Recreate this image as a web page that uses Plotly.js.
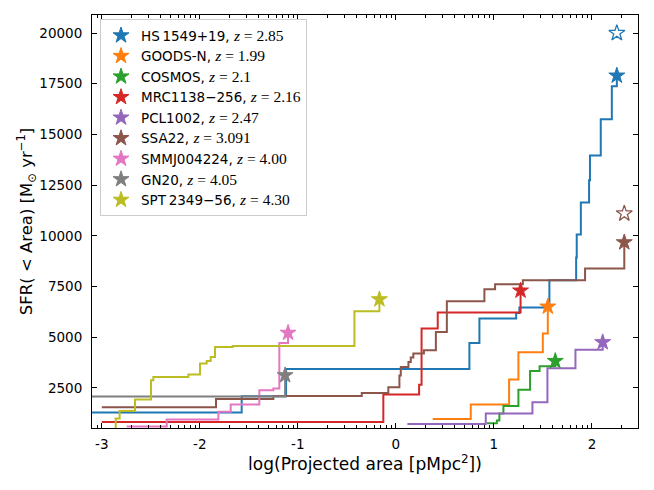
<!DOCTYPE html>
<html>
<head>
<meta charset="utf-8">
<script src="https://cdn.plot.ly/plotly-3.0.1.min.js"></script>
<style>body{margin:0;} #sfrChart{width:654px;height:490px;}</style>
</head>
<body>
<div id="sfrChart"></div>
<script>
// fields, redshifts and colours (legend order)
var names = ['HS\u20091549+19', 'GOODS-N', 'COSMOS', 'MRC1138\u2212256', 'PCL1002',
             'SSA22', 'SMMJ004224', 'GN20', 'SPT\u20092349\u221256'];
var redshifts = ['2.85', '1.99', '2.1', '2.16', '2.47', '3.091', '4.00', '4.05', '4.30'];
var colors = ['#1f77b4', '#ff7f0e', '#2ca02c', '#d62728', '#9467bd',
              '#8c564b', '#e377c2', '#7f7f7f', '#bcbd22'];

// cumulative SFR steps: x = log area where the step happens, y = new level
var hs1549_x = [-3.2, -1.573, -1.12, 0.75, 0.852, 1.227, 1.26, 1.566, 1.839, 1.845, 1.887, 1.971, 1.98, 2.09, 2.203, 2.254];
var hs1549_y = [1287, 2090, 3436, 4718, 5921, 6200, 6463, 7809, 8928, 10062, 11640, 12739, 13967, 15746, 17373, 17900];
var goodsn_x = [0.376, 0.764, 1.155, 1.25, 1.499, 1.55];
var goodsn_y = [965, 1681, 2914, 4260, 5181, 6510];
var cosmos_x = [0.928, 1.03, 1.056, 1.097, 1.25, 1.369, 1.466, 1.626];
var cosmos_y = [760, 900, 1237, 1612, 2410, 3340, 3569, 3830];
var mrc1138_x = [-3.0, -0.128, 0.237, 0.262, 0.427, 1.272];
var mrc1138_y = [823, 2180, 2660, 5430, 6217, 7300];
var pcl1002_x = [0.117, 0.917, 1.393, 1.546, 1.832, 2.11];
var pcl1002_y = [730, 1237, 1795, 3470, 4380, 4755];
var ssa22_x = [-3.0, -1.835, -1.25, -0.348, -0.077, 0.036, 0.05, 0.128, 0.152, 0.178, 0.286, 0.408, 0.52, 0.903, 1.012, 1.295, 1.93, 2.33];
var ssa22_y = [1548, 1958, 2105, 2253, 2534, 3111, 3535, 3781, 3998, 4195, 4358, 5260, 6780, 7365, 7612, 7809, 8386, 9680];
var smmj_x = [-2.746, -2.338, -1.811, -1.685, -1.393, -1.25, -1.189, -1.10];
var smmj_y = [596, 942, 1330, 1681, 2386, 2470, 4718, 5220];
var gn20_x = [-3.2, -1.13];
var gn20_y = [2075, 3126];
var spt2349_x = [-2.858, -2.858, -2.818, -2.661, -2.498, -2.474, -2.117, -1.998, -1.93, -1.889, -1.845, -1.665, -0.423, -0.168];
var spt2349_y = [400, 990, 1366, 1928, 2879, 3042, 3160, 3702, 3831, 4028, 4521, 4570, 6281, 6870];

var stepX = [hs1549_x, goodsn_x, cosmos_x, mrc1138_x, pcl1002_x, ssa22_x, smmj_x, gn20_x, spt2349_x];
var stepY = [hs1549_y, goodsn_y, cosmos_y, mrc1138_y, pcl1002_y, ssa22_y, smmj_y, gn20_y, spt2349_y];

// open stars (HS1549 and SSA22)
var open_x = [2.254, 2.33];
var open_y = [20000, 11100];
var open_colors = ['#1f77b4', '#8c564b'];

var xtick_vals = [-3, -2, -1, 0, 1, 2];
var xtick_text = ['-3', '-2', '-1', '0', '1', '2'];
var ytick_vals = [2500, 5000, 7500, 10000, 12500, 15000, 17500, 20000];

// minor ticks like a log axis inside each unit
var minorX = [];
for (var d = -4; d <= 2; d++) {
    for (var k = 2; k <= 9; k++) {
        var v = d + Math.log10(k);
        if (v > -3.1 && v < 2.47) minorX.push(v);
    }
}

var data = [];
for (var i = 0; i < names.length; i++) {
    data.push({
        type: 'scatter', mode: 'lines',
        x: stepX[i], y: stepY[i],
        line: {color: colors[i], width: 2, shape: 'hv'},
        showlegend: false, hoverinfo: 'none'
    });
}
for (var i = 0; i < names.length; i++) {
    var n = stepX[i].length;
    data.push({
        type: 'scatter', mode: 'markers',
        x: [stepX[i][n - 1]], y: [stepY[i][n - 1]],
        name: names[i] + ', <span style="font-family:\'Liberation Serif\';font-size:15.5px"><i>z</i> = ' + redshifts[i] + '</span>',
        legendgroup: 'g' + i,
        marker: {symbol: 'star', size: 12, color: colors[i], line: {color: colors[i], width: 1}},
        hoverinfo: 'none'
    });
}
for (var j = 0; j < open_x.length; j++) {
    data.push({
        type: 'scatter', mode: 'markers',
        x: [open_x[j]], y: [open_y[j]],
        marker: {symbol: 'star-open', size: 12, color: open_colors[j], line: {color: open_colors[j], width: 1.3}},
        showlegend: false, hoverinfo: 'none'
    });
}

var layout = {
    width: 654, height: 490,
    margin: {l: 92, r: 16, t: 15, b: 62},
    paper_bgcolor: 'white', plot_bgcolor: 'white',
    font: {family: 'DejaVu Sans', size: 13, color: 'black'},
    xaxis: {
        range: [-3.1, 2.47], showgrid: false, zeroline: false,
        tickmode: 'array', tickvals: xtick_vals, ticktext: xtick_text,
        ticks: 'inside', ticklen: 5, tickwidth: 1, tickcolor: 'black',
        showline: true, linecolor: 'black', linewidth: 1, mirror: 'allticks',
        tickfont: {size: 13.5}, ticklabelstandoff: 4,
        minor: {tickmode: 'array', tickvals: minorX, ticks: 'inside', ticklen: 3, tickcolor: 'black', tickwidth: 1, showgrid: false},
        title: {text: 'log(Projected area [pMpc<sup>2</sup>])', font: {size: 17}, standoff: 4}
    },
    yaxis: {
        range: [527, 20890], showgrid: false, zeroline: false,
        tickmode: 'array', tickvals: ytick_vals, tickformat: 'd',
        ticks: 'inside', ticklen: 5, tickwidth: 1, tickcolor: 'black',
        showline: true, linecolor: 'black', linewidth: 1, mirror: 'allticks',
        tickfont: {size: 13.5}, ticklabelstandoff: 6,
        title: {text: 'SFR( &lt; Area) [M<sub>\u2299</sub> yr<sup>\u22121</sup>]', font: {size: 16.5}, standoff: 2}
    },
    legend: {
        x: 0.0147, y: 0.99, xanchor: 'left', yanchor: 'top',
        bgcolor: 'rgba(255,255,255,0.8)', bordercolor: '#cccccc', borderwidth: 1,
        font: {size: 13.5}, tracegroupgap: 0
    }
};
var config = {displayModeBar: false, staticPlot: true};
Plotly.newPlot('sfrChart', data, layout, config);
</script>
</body>
</html>
